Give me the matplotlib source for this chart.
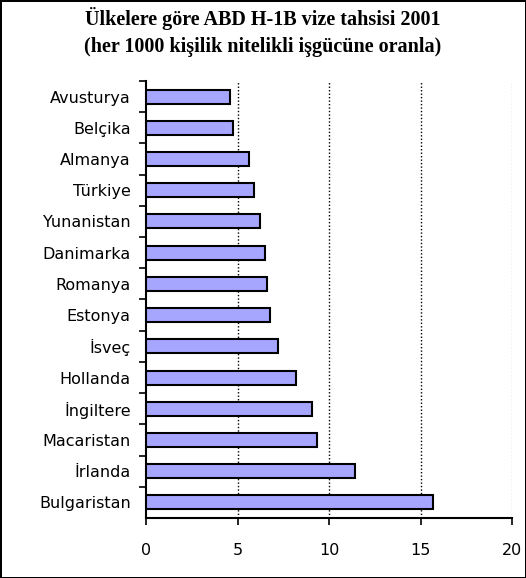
import matplotlib.pyplot as plt

countries = ["Avusturya", "Belçika", "Almanya", "Türkiye", "Yunanistan", "Danimarka",
             "Romanya", "Estonya", "İsveç", "Hollanda", "İngiltere", "Macaristan",
             "İrlanda", "Bulgaristan"]
values = [4.6, 4.75, 5.63, 5.9, 6.23, 6.5, 6.61, 6.78, 7.2, 8.2, 9.07, 9.34, 11.4, 15.7]
xticks = [0, 5, 10, 15, 20]

fig = plt.figure(figsize=(5.26, 5.78), dpi=100, edgecolor="black", linewidth=2)
ax = fig.add_axes([0.2776, 0.1038, 0.6958, 0.7561])

pos = list(range(len(countries)))
ax.barh(pos, values, height=0.45, color="#a6a6ff", edgecolor="black", linewidth=1.5, zorder=3)

# dotted gridlines
for x in xticks[1:4]:
    ax.axvline(x, color="black", linestyle=(0, (1, 1.5)), linewidth=1, zorder=1)
ax.axvline(20, color="#bbbbbb", linestyle=(0, (1, 1.5)), linewidth=1, zorder=1)

ax.set_xlim(0, 20)
ax.set_ylim(len(countries) - 0.5, -0.5)
ax.set_xticks(xticks)
ax.set_xticklabels([str(x) for x in xticks], fontsize=11.5)
ax.tick_params(axis="x", length=5, width=1.2, pad=13)

ax.set_yticks(pos)
ax.set_yticklabels(countries, fontsize=11.5)
ax.tick_params(axis="y", which="major", length=0, pad=11)
ax.set_yticks([p - 0.5 for p in pos], minor=True)
ax.tick_params(axis="y", which="minor", length=5, width=1.2)

for s in ["top", "right"]:
    ax.spines[s].set_visible(False)
for s in ["left", "bottom"]:
    ax.spines[s].set_linewidth(1.5)

fig.text(0.5, 0.968, "Ülkelere göre ABD H-1B vize tahsisi 2001", ha="center", va="center",
         family="Liberation Serif", weight="bold", fontsize=14.5)
fig.text(0.5, 0.919, "(her 1000 kişilik nitelikli işgücüne oranla)", ha="center", va="center",
         family="Liberation Serif", weight="bold", fontsize=14.5)

fig.savefig("out.png")
